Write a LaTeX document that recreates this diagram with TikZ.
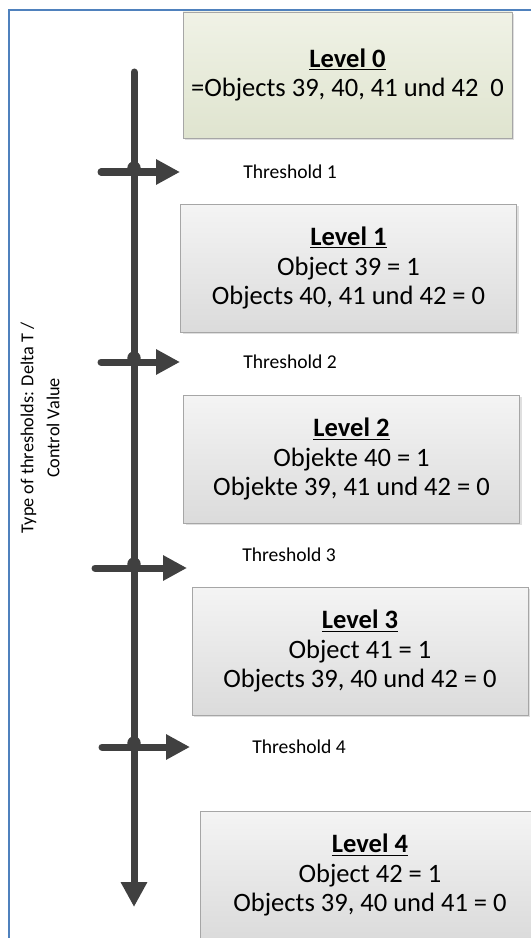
\documentclass[tikz,border=0pt]{standalone}
\usepackage{fontspec}
\setmainfont{Carlito}
\usepackage{xcolor}
\usepackage{tikz}
\usetikzlibrary{arrows.meta, shadows, positioning}

\definecolor{frameblue}{HTML}{4F81BD}
\definecolor{axisgray}{HTML}{404040}
\definecolor{boxline}{HTML}{A6A6A6}
\definecolor{zerotop}{HTML}{F0F2E6}
\definecolor{zerobottom}{HTML}{DFE4CF}
\definecolor{graytop}{HTML}{F4F4F4}
\definecolor{graybottom}{HTML}{DBDBDB}

\begin{document}
\begin{tikzpicture}[
    x=0.75pt, y=-0.75pt,
    level-box/.style={rectangle, draw=boxline, top color=graytop, bottom color=graybottom,
        drop shadow={opacity=0.25, shadow xshift=1.5pt, shadow yshift=-1.5pt},
        minimum width=252pt, minimum height=96pt, align=center,
        font=\fontsize{19.9}{22}\selectfont, inner sep=0pt},
    level-zero/.style={level-box, top color=zerotop, bottom color=zerobottom},
    axis/.style={draw=axisgray, line width=5.25pt, line cap=round},
    bar/.style={axis, -{Triangle[length=18pt, width=18pt]}},
    threshold-label/.style={anchor=west, font=\fontsize{14.7}{17}\selectfont, inner sep=0pt}
]
    \useasboundingbox (0,0) rectangle (531,938);
    \clip (0,0) rectangle (531,938);

    % level boxes
    \node[level-zero, minimum width=246.75pt, minimum height=94.5pt] (l0) at (347.5,75)
        {\underline{\textbf{Level 0}}\\=Objects 39, 40, 41 und 42~~0};
    \node[level-box] (l1) at (348.5,268)
        {\underline{\textbf{Level 1}}\\Object 39 = 1\\Objects 40, 41 und 42 = 0};
    \node[level-box] (l2) at (351.5,459)
        {\underline{\textbf{Level 2}}\\Objekte 40 = 1\\Objekte 39, 41 und 42 = 0};
    \node[level-box] (l3) at (360,651)
        {\underline{\textbf{Level 3}}\\Object 41 = 1\\Objects 39, 40 und 42 = 0};
    \node[level-box, minimum width=255pt] (l4) at (370,875)
        {\underline{\textbf{Level 4}}\\Object 42 = 1\\Objects 39, 40 und 41 = 0};

    % frame
    \draw[draw=frameblue, line width=1.6pt] (540,10) -- (9,10) -- (9,945);

    % axis
    \coordinate (top) at (134,72);
    \coordinate (bottom) at (134,907);
    \draw[axis, -{Triangle[length=18.75pt, width=18.75pt]}] (top) -- (bottom);

    \node[rotate=90, align=center, font=\fontsize{13.7}{19.5}\selectfont] (type) at (40,428)
        {Type of thresholds: Delta T /\\Control Value};

    % thresholds
    \coordinate (b1s) at (101,172);
    \coordinate (b1e) at (180,172);
    \coordinate (b2s) at (101,362);
    \coordinate (b2e) at (180,362);
    \coordinate (b3s) at (95,568);
    \coordinate (b3e) at (187,568);
    \coordinate (b4s) at (102,747);
    \coordinate (b4e) at (190,747);

    \draw[bar] (b1s) -- (b1e);
    \draw[bar] (b2s) -- (b2e);
    \draw[bar] (b3s) -- (b3e);
    \draw[bar] (b4s) -- (b4e);

    \fill[axisgray] (134,168) circle (5pt);
    \fill[axisgray] (134,358) circle (5pt);
    \fill[axisgray] (134,564) circle (5pt);
    \fill[axisgray] (134,743) circle (5pt);

    \node[threshold-label] (t1) at (243,172) {Threshold 1};
    \node[threshold-label] (t2) at (243,362) {Threshold 2};
    \node[threshold-label] (t3) at (242,555) {Threshold 3};
    \node[threshold-label] (t4) at (252,747) {Threshold 4};

\end{tikzpicture}
\end{document}
